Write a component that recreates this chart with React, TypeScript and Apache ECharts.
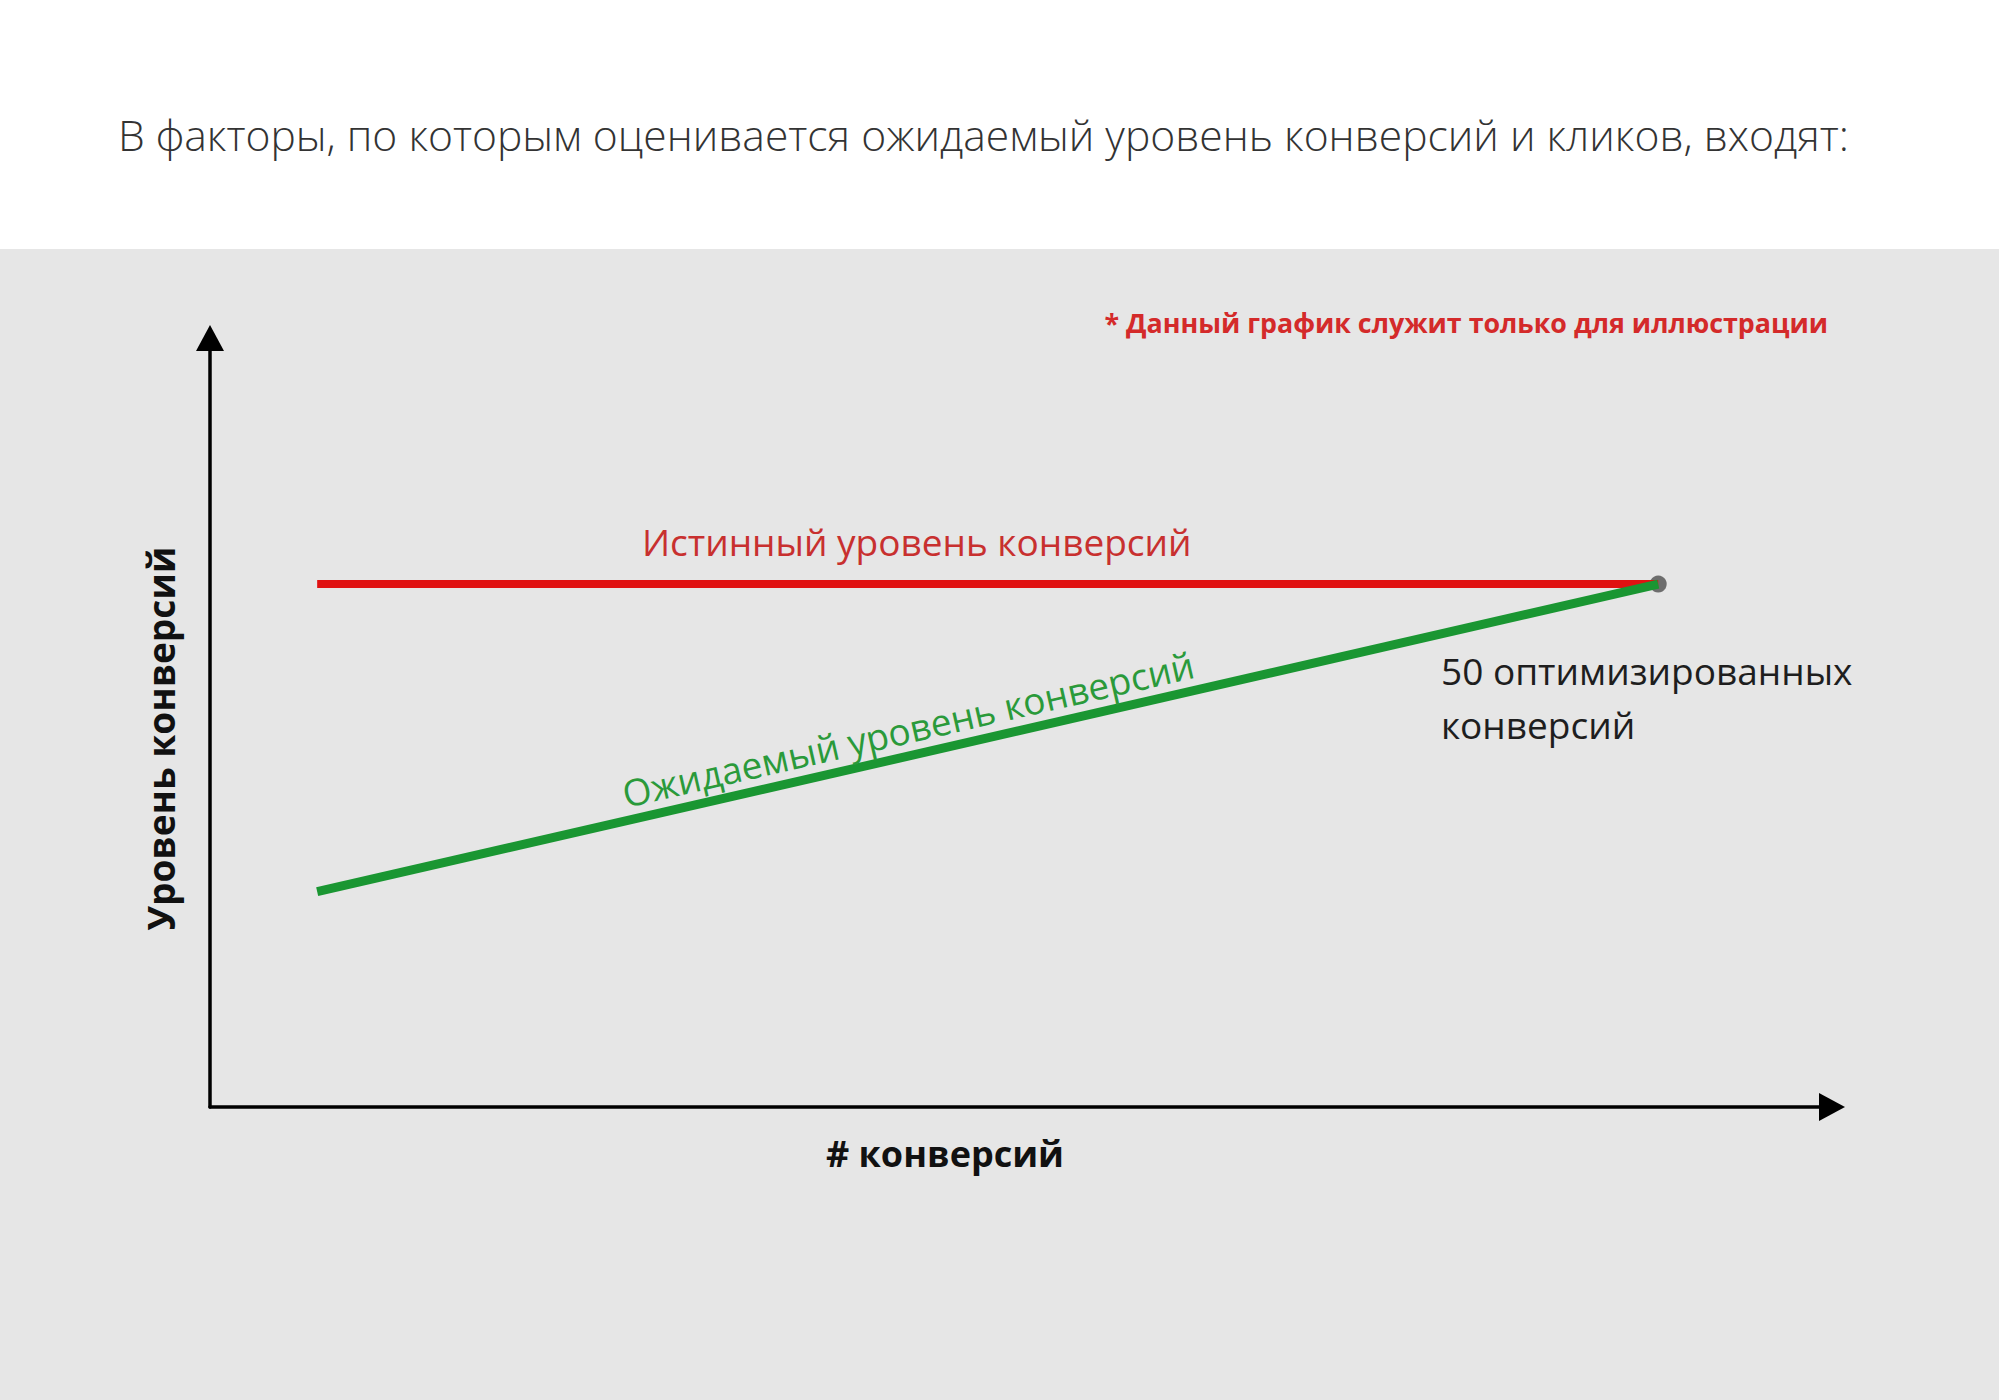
import * as echarts from 'echarts';
import { useEffect, useRef } from 'react';

// данные
const startX = 3.7;
const optimizedX = 50;
const trueRate = [68, 68];
const expectedRate = [28, 68];
const xMax = 56;
const yMax = 100;

const titleText = 'В факторы, по которым оценивается ожидаемый уровень конверсий и кликов, входят:';
const noteText = '* Данный график служит только для иллюстрации';
const trueLabel = 'Истинный уровень конверсий';
const expectedLabel = 'Ожидаемый уровень конверсий';
const pointLabel = '50 оптимизированных\nконверсий';
const yName = 'Уровень конверсий';
const xName = '# конверсий';

const font = '"Open Sans", "Noto Sans", sans-serif';

const getOptions = (): echarts.EChartsOption => ({
  animation: false,
  backgroundColor: '#ffffff',
  textStyle: { fontFamily: font },
  graphic: [
    {
      type: 'rect',
      left: 0,
      top: 249,
      shape: { width: 1999, height: 1151 },
      style: { fill: '#e6e6e6' },
      z: -10,
      silent: true,
    },
  ],
  title: [
    {
      text: titleText,
      left: 113,
      top: 107,
      textStyle: { fontFamily: font, fontWeight: 300, fontSize: 42.6, color: '#333333' },
    },
    {
      text: noteText,
      right: 166,
      top: 304,
      textStyle: { fontFamily: font, fontWeight: 'bold', fontSize: 26.8, color: '#d42a2a' },
    },
  ],
  grid: { left: 210, top: 338, right: 167, bottom: 293 },
  xAxis: {
    type: 'value',
    min: 0,
    max: xMax,
    name: xName,
    nameLocation: 'middle',
    nameGap: 28,
    nameTextStyle: {
      fontFamily: font,
      fontWeight: 'bold',
      fontSize: 36,
      color: '#111111',
      padding: [0, 152, 0, 0],
    },
    axisLine: {
      symbol: ['none', 'triangle'],
      symbolSize: [28, 26],
      lineStyle: { color: '#000000', width: 3.5 },
    },
    axisTick: { show: false },
    axisLabel: { show: false },
    splitLine: { show: false },
  },
  yAxis: {
    type: 'value',
    min: 0,
    max: yMax,
    name: yName,
    nameLocation: 'middle',
    nameGap: 31,
    nameRotate: 90,
    nameTextStyle: {
      fontFamily: font,
      fontWeight: 'bold',
      fontSize: 37,
      color: '#111111',
      padding: [0, 32, 0, 0],
    },
    axisLine: {
      symbol: ['none', 'triangle'],
      symbolSize: [28, 26],
      lineStyle: { color: '#000000', width: 3.5 },
    },
    axisTick: { show: false },
    axisLabel: { show: false },
    splitLine: { show: false },
  },
  series: [
    {
      name: trueLabel,
      type: 'line',
      showSymbol: false,
      data: [
        [startX, trueRate[0]],
        [optimizedX, trueRate[1]],
      ],
      lineStyle: { color: '#e01212', width: 8 },
      markPoint: {
        symbol: 'circle',
        symbolSize: 0,
        data: [
          {
            coord: [24.4, 73.5],
            label: {
              show: true,
              formatter: trueLabel,
              position: 'inside',
              fontFamily: font,
              fontSize: 37,
              color: '#c8302f',
            },
          },
        ],
      },
    },
    {
      name: expectedLabel,
      type: 'line',
      showSymbol: false,
      data: [
        [startX, expectedRate[0]],
        [optimizedX, expectedRate[1]],
      ],
      lineStyle: { color: '#1a9632', width: 9 },
      markPoint: {
        symbol: 'circle',
        symbolSize: 0,
        data: [
          {
            coord: [24.1, 49.2],
            label: {
              show: true,
              formatter: expectedLabel,
              position: 'inside',
              rotate: 12.9,
              fontFamily: font,
              fontSize: 37,
              color: '#2a9a3a',
            },
          },
        ],
      },
    },
    {
      name: pointLabel,
      type: 'scatter',
      symbolSize: 17,
      data: [[optimizedX, trueRate[1]]],
      itemStyle: { color: '#4f4f4f' },
      markPoint: {
        symbol: 'circle',
        symbolSize: 0,
        data: [
          {
            coord: [42.5, 53.2],
            label: {
              show: true,
              formatter: pointLabel,
              position: 'inside',
              align: 'left',
              verticalAlign: 'middle',
              lineHeight: 54,
              fontFamily: font,
              fontSize: 37,
              color: '#1e1e1e',
            },
          },
        ],
      },
    },
  ],
});

export default function App() {
  const chartRef = useRef<HTMLDivElement>(null);

  useEffect(() => {
    if (!chartRef.current) return;
    const chart = echarts.init(chartRef.current, undefined, { renderer: 'svg' });
    chart.setOption(getOptions());
    return () => {
      chart.dispose();
    };
  }, []);

  return (
    <div
      ref={chartRef}
      style={{ position: 'fixed', left: 0, top: 0, width: 1999, height: 1400 }}
    />
  );
}
